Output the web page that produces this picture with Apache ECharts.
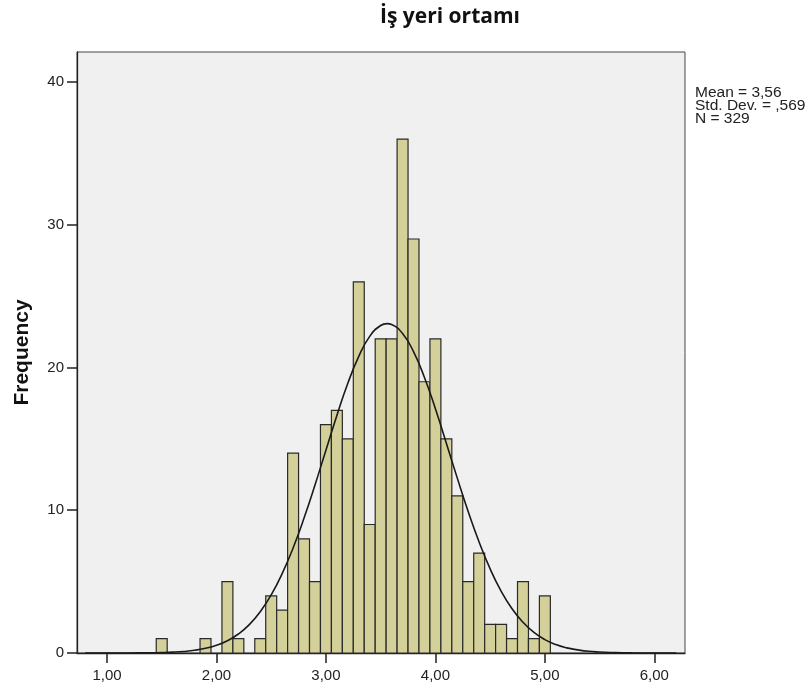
<!DOCTYPE html>
<html>
<head>
<meta charset="utf-8">
<script src="https://cdn.jsdelivr.net/npm/echarts@6/dist/echarts.min.js"></script>
<style>html,body{margin:0;padding:0;background:#fff;}#c{width:811px;height:691px;}</style>
</head>
<body>
<div id="c"></div>
<script>
// Histogram bins (centers) and frequencies
var binCenters = [1.5,1.6,1.7,1.8,1.9,2.0,2.1,2.2,2.3,2.4,2.5,2.6,2.7,2.8,2.9,3.0,3.1,3.2,3.3,3.4,3.5,3.6,3.7,3.8,3.9,4.0,4.1,4.2,4.3,4.4,4.5,4.6,4.7,4.8,4.9,5.0];
var frequencies = [1,0,0,0,1,0,5,1,0,1,4,3,14,8,5,16,17,15,26,9,22,22,36,29,19,22,15,11,5,7,2,2,1,5,1,4];
var binWidth = 0.1;

// Normal curve
var curveX = [0.8,1.0,1.2,1.4,1.5,1.6,1.7,1.8,1.9,2.0,2.1,2.2,2.3,2.4,2.5,2.6,2.7,2.8,2.9,3.0,3.1,3.2,3.3,3.4,3.5,3.56,3.6,3.7,3.8,3.9,4.0,4.1,4.2,4.3,4.4,4.5,4.6,4.7,4.8,4.9,5.0,5.1,5.2,5.3,5.4,5.5,5.6,5.8,6.0,6.2];
var curveY = [0,0.001,0.004,0.017,0.033,0.061,0.11,0.19,0.33,0.54,0.86,1.33,1.99,2.89,4.07,5.56,7.36,9.45,11.77,14.21,16.64,18.89,20.78,22.18,22.94,23.07,23.01,22.38,21.11,19.30,17.11,14.70,12.25,9.90,7.76,5.89,4.34,3.10,2.15,1.44,0.94,0.59,0.36,0.22,0.12,0.07,0.04,0.01,0.002,0];

var xTicks = [1,2,3,4,5,6];
var yTicks = [0,10,20,30,40];
var statLines = ['Mean = 3,56','Std. Dev. = ,569','N = 329'];
var titleText = 'İş yeri ortamı';
var yName = 'Frequency';

var barData = binCenters.map(function(c,i){return [c, frequencies[i]];});
var lineData = curveX.map(function(x,i){return [x, curveY[i]];});

var chart = echarts.init(document.getElementById('c'));
chart.setOption({
  animation:false,
  backgroundColor:'#ffffff',
  title:{
    text:titleText,
    left:445, top:2, textAlign:'center',
    textStyle:{fontFamily:'Open Sans', fontWeight:'bold', fontSize:21, color:'#111'}
  },
  grid:{left:77, top:52, right:126, bottom:38, show:true, backgroundColor:'#f0f0f0', borderColor:'#444', borderWidth:1, containLabel:false},
  xAxis:{
    type:'value', min:0.726, max:6.28,
    axisLine:{show:true, onZero:false, lineStyle:{color:'#222', width:1.3}},
    axisTick:{show:true, customValues:xTicks, length:10, lineStyle:{color:'#222', width:1.5}},
    axisLabel:{customValues:xTicks, margin:15, fontFamily:'Liberation Sans, Arial', fontSize:15, color:'#222',
      formatter:function(v){return v.toFixed(2).replace('.',',');}},
    splitLine:{show:false}
  },
  yAxis:{
    type:'value', min:0, max:42.1,
    name:yName, nameLocation:'middle', nameRotate:90, nameGap:44,
    nameTextStyle:{fontFamily:'Liberation Sans, Arial', fontWeight:'bold', fontSize:21, color:'#111'},
    axisLine:{show:true, lineStyle:{color:'#222', width:1.3}},
    axisTick:{show:true, customValues:yTicks, length:10, lineStyle:{color:'#222', width:1.5}},
    axisLabel:{customValues:yTicks, margin:13, fontFamily:'Liberation Sans, Arial', fontSize:15, color:'#222'},
    splitLine:{show:false}
  },
  graphic:[{
    type:'text', left:695, top:85,
    style:{text:statLines.join('\n'), font:'15.5px "Liberation Sans", Arial', fill:'#222', lineHeight:13}
  }],
  series:[{
    type:'custom',
    data:barData,
    encode:{x:0,y:1},
    renderItem:function(params, api){
      var c = api.value(0), f = api.value(1);
      if (!f) return null;
      var p0 = api.coord([c - binWidth/2, f]);
      var p1 = api.coord([c + binWidth/2, 0]);
      return {type:'rect', shape:{x:p0[0], y:p0[1], width:p1[0]-p0[0], height:p1[1]-p0[1]},
        style:{fill:'#d4d09a', stroke:'#2a2a2a', lineWidth:1.2}};
    },
    z:2
  },{
    type:'line',
    data:lineData,
    smooth:true,
    showSymbol:false,
    lineStyle:{color:'#1a1a1a', width:1.6},
    z:3
  }]
});
</script>
</body>
</html>
